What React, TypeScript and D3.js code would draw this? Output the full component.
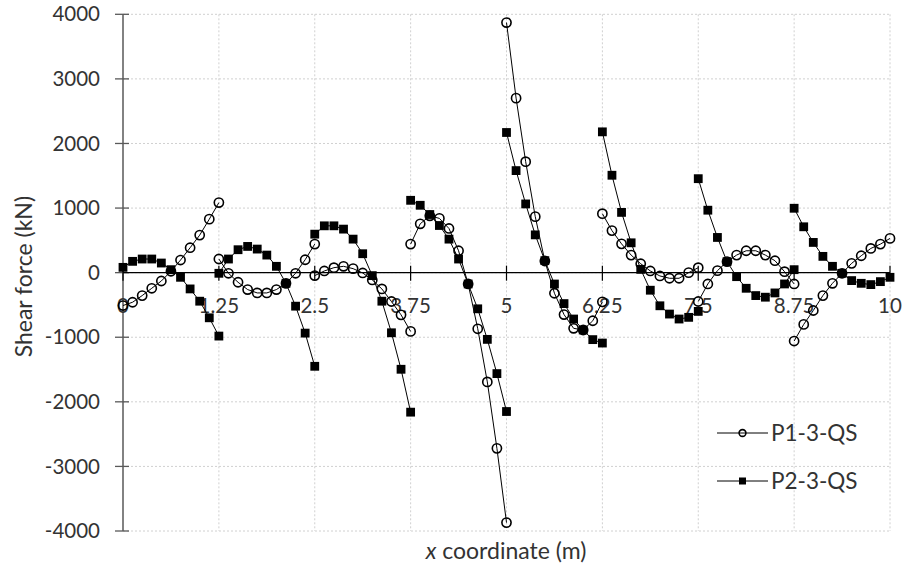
import * as d3 from 'd3';

// Span starts along the beam (m) and station offsets inside each span
const spanStarts = [0, 1.25, 2.5, 3.75, 5, 6.25, 7.5, 8.75];
const stationOffsets = [0, 0.125, 0.25, 0.375, 0.5, 0.625, 0.75, 0.875, 1, 1.125, 1.25];

// P1-3-QS shear force (kN), one row per span
const p1Spans = [
  [-509, -458, -355, -242, -129, 21, 195, 386, 581, 828, 1085],
  [211, -10, -149, -262, -314, -314, -262, -165, -10, 200, 442],
  [-46, 26, 77, 98, 62, -5, -113, -252, -447, -653, -910],
  [442, 756, 880, 840, 684, 339, -175, -869, -1692, -2720, -3870],
  [3872, 2702, 1718, 867, 180, -319, -649, -862, -888, -745, -452],
  [913, 651, 446, 272, 138, 26, -51, -87, -87, 0, 77],
  [-447, -175, 31, 170, 272, 339, 339, 272, 185, 15, -175],
  [-1059, -801, -586, -355, -165, -10, 144, 262, 375, 442, 530],
];

// P2-3-QS shear force (kN), one row per span
const p2Spans = [
  [82, 175, 211, 211, 149, 46, -72, -252, -442, -699, -982],
  [-10, 211, 355, 406, 365, 272, 98, -165, -519, -936, -1450],
  [596, 725, 725, 674, 519, 293, -46, -442, -931, -1496, -2160],
  [1120, 1043, 900, 730, 519, 211, -175, -560, -1033, -1563, -2150],
  [2170, 1580, 1064, 585, 186, -176, -479, -718, -888, -1037, -1090],
  [2180, 1508, 933, 462, 51, -272, -513, -641, -718, -692, -600],
  [1455, 967, 545, 170, -62, -242, -355, -380, -314, -175, 46],
  [997, 710, 468, 252, 98, -10, -123, -165, -185, -139, -72],
];

const xTicks = [0, 1.25, 2.5, 3.75, 5, 6.25, 7.5, 8.75, 10];
const xTickLabels = ['0', '1.25', '2.5', '3.75', '5', '6.25', '7.5', '8.75', '10'];
const yTicks = [-4000, -3000, -2000, -1000, 0, 1000, 2000, 3000, 4000];

const seriesNames = ['P1-3-QS', 'P2-3-QS'];

const FONT = 'Lato, "Open Sans", sans-serif';

type Pt = { x: number; v: number };

const toSegments = (spans: number[][]): Pt[][] =>
  spans.map((row, i) => row.map((v, j) => ({ x: spanStarts[i] + stationOffsets[j], v })));

export default function App() {
  const width = 904;
  const height = 570;
  const marginLeft = 123;
  const marginRight = 14;
  const marginTop = 14.3;
  const marginBottom = 39;

  const x = d3.scaleLinear([0, 10], [marginLeft, width - marginRight]);
  const y = d3.scaleLinear([-4000, 4000], [height - marginBottom, marginTop]);

  const line = d3.line<Pt>().x(d => x(d.x)).y(d => y(d.v));

  const p1 = toSegments(p1Spans);
  const p2 = toSegments(p2Spans);

  const circle = (cx: number, cy: number, r: number, key: string) => (
    <circle key={key} cx={cx} cy={cy} r={r} fill="none" stroke="#000" strokeWidth={1.6} />
  );
  const square = (cx: number, cy: number, s: number, key: string) => (
    <rect key={key} x={cx - s / 2} y={cy - s / 2} width={s} height={s} fill="#000" />
  );

  const legendY = [433, 481];

  return (
    <div style={{ position: 'absolute', left: 0, top: 0 }}>
      <svg width={width} height={height} style={{ display: 'block', background: '#fff' }}>
        {/* grid */}
        <g stroke="#d0d0d0" strokeWidth={1} strokeDasharray="2 2">
          {yTicks.map(t => (
            <line key={'gy' + t} x1={marginLeft} x2={width - marginRight} y1={y(t)} y2={y(t)} />
          ))}
          {xTicks.slice(1).map(t => (
            <line key={'gx' + t} x1={x(t)} x2={x(t)} y1={marginTop} y2={height - marginBottom} />
          ))}
        </g>

        {/* y axis */}
        <line x1={marginLeft} x2={marginLeft} y1={marginTop} y2={height - marginBottom} stroke="#595959" strokeWidth={1.5} />
        <g fontFamily={FONT} fontSize={20.5} fill="#333" textAnchor="end">
          {yTicks.map(t => (
            <g key={'ty' + t}>
              <line x1={marginLeft - 8} x2={marginLeft + 6} y1={y(t)} y2={y(t)} stroke="#595959" strokeWidth={1.3} />
              <text x={100} y={y(t)} dy="0.35em">{t}</text>
            </g>
          ))}
        </g>

        {/* x axis at zero */}
        <line x1={marginLeft} x2={width - marginRight} y1={y(0)} y2={y(0)} stroke="#000" strokeWidth={1.3} />
        <g fontFamily={FONT} fontSize={20.5} fill="#333" textAnchor="middle">
          {xTicks.map((t, i) => (
            <g key={'tx' + t}>
              <line x1={x(t)} x2={x(t)} y1={y(0) - 7} y2={y(0) + 8} stroke="#000" strokeWidth={1.2} />
              <text x={x(t)} y={y(0) + 40}>{xTickLabels[i]}</text>
            </g>
          ))}
        </g>

        {/* P1 */}
        <g>
          {p1.map((seg, i) => (
            <path key={'l1' + i} d={line(seg) ?? ''} fill="none" stroke="#000" strokeWidth={1} />
          ))}
          {p1.flatMap((seg, i) => seg.map((d, j) => circle(x(d.x), y(d.v), 4.6, `c${i}-${j}`)))}
        </g>

        {/* P2 */}
        <g>
          {p2.map((seg, i) => (
            <path key={'l2' + i} d={line(seg) ?? ''} fill="none" stroke="#000" strokeWidth={1} />
          ))}
          {p2.flatMap((seg, i) => seg.map((d, j) => square(x(d.x), y(d.v), 8.8, `s${i}-${j}`)))}
        </g>

        {/* legend */}
        <g fontFamily={FONT} fontSize={22.5} fill="#333">
          {seriesNames.map((name, i) => (
            <g key={name}>
              <line x1={717} x2={768} y1={legendY[i]} y2={legendY[i]} stroke="#000" strokeWidth={1} />
              {i === 0 ? circle(742.5, legendY[i], 3.4, 'lc') : square(742.5, legendY[i], 7, 'ls')}
              <text x={771} y={legendY[i] + 8}>{name}</text>
            </g>
          ))}
        </g>

        {/* axis titles */}
        <text x={506} y={559} textAnchor="middle" fontFamily={FONT} fontSize={23} fill="#333">
          <tspan fontStyle="italic">x</tspan> coordinate (m)
        </text>
        <text
          transform={`translate(32,${(marginTop + height - marginBottom) / 2 + 4}) rotate(-90)`}
          textAnchor="middle"
          fontFamily={FONT}
          fontSize={23}
          fill="#333"
        >
          Shear force (kN)
        </text>
      </svg>
    </div>
  );
}
